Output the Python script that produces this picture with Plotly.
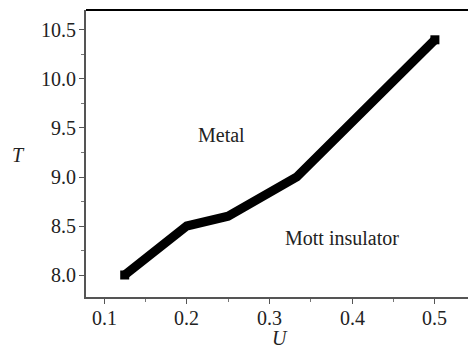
import plotly.graph_objects as go

U = [0.125, 0.2, 0.25, 0.333, 0.5]
T = [8.0, 8.5, 8.6, 9.0, 10.4]

x_ticks = [0.1, 0.2, 0.3, 0.4, 0.5]
y_ticks = [8.0, 8.5, 9.0, 9.5, 10.0, 10.5]
x_ticktext = ["0.1", "0.2", "0.3", "0.4", "0.5"]
y_ticktext = ["8.0", "8.5", "9.0", "9.5", "10.0", "10.5"]

labels = ["Metal", "Mott insulator"]
label_x = [0.2426, 0.3876]
label_y = [9.43, 8.378]

FONT = "Liberation Serif"
TXT = dict(family=FONT, size=20, color="#222")

fig = go.Figure()
fig.add_trace(go.Scatter(x=U, y=T, mode="lines",
                         line=dict(color="black", width=9),
                         showlegend=False, hoverinfo="skip"))
fig.add_trace(go.Scatter(x=[U[0], U[-1]], y=[T[0], T[-1]], mode="markers",
                         marker=dict(symbol="square", size=9, color="black"),
                         showlegend=False, hoverinfo="skip"))

for t, x, y in zip(labels, label_x, label_y):
    fig.add_annotation(x=x, y=y, text=t, showarrow=False,
                       xanchor="center", yanchor="middle", font=TXT)

# tick labels (serif) placed at the axis tick positions
for v, t in zip(x_ticks, x_ticktext):
    fig.add_annotation(x=v, xref="x", y=0, yref="paper", text=t, showarrow=False,
                       xanchor="center", yanchor="top", yshift=-8, font=TXT)
for v, t in zip(y_ticks, y_ticktext):
    fig.add_annotation(x=0, xref="paper", y=v, yref="y", text=t, showarrow=False,
                       xanchor="right", yanchor="middle", xshift=-8, font=TXT)

fig.add_annotation(xref="paper", yref="paper", x=(18 - 86) / 382, y=(297 - 155) / 287,
                   text="<i>T</i>", showarrow=False, xanchor="center", yanchor="middle",
                   font=TXT)
fig.add_annotation(xref="paper", yref="paper", x=(280 - 86) / 382, y=(297 - 338) / 287,
                   text="<i>U</i>", showarrow=False, xanchor="center", yanchor="middle",
                   font=TXT)

fig.add_shape(type="line", xref="paper", yref="paper", x0=0, x1=1, y0=1, y1=1,
              line=dict(color="black", width=2))

axis_common = dict(showgrid=False, zeroline=False, showline=True,
                   linecolor="#555", linewidth=2, ticks="outside", ticklen=5,
                   tickcolor="#555", tickwidth=1, showticklabels=False)

fig.update_layout(
    width=468, height=350,
    margin=dict(l=86, r=0, t=10, b=53),
    plot_bgcolor="white", paper_bgcolor="white",
    font=TXT,
    xaxis=dict(range=[0.0782, 0.540], tickmode="array", tickvals=x_ticks,
               minor=dict(tickvals=[0.15, 0.25, 0.35, 0.45], ticks="outside",
                          ticklen=3, tickcolor="#777"),
               **axis_common),
    yaxis=dict(range=[7.7755, 10.704], tickmode="array", tickvals=y_ticks,
               minor=dict(tickvals=[8.25, 8.75, 9.25, 9.75, 10.25], ticks="outside",
                          ticklen=3, tickcolor="#777"),
               **axis_common),
)

fig.write_html("out.html")
